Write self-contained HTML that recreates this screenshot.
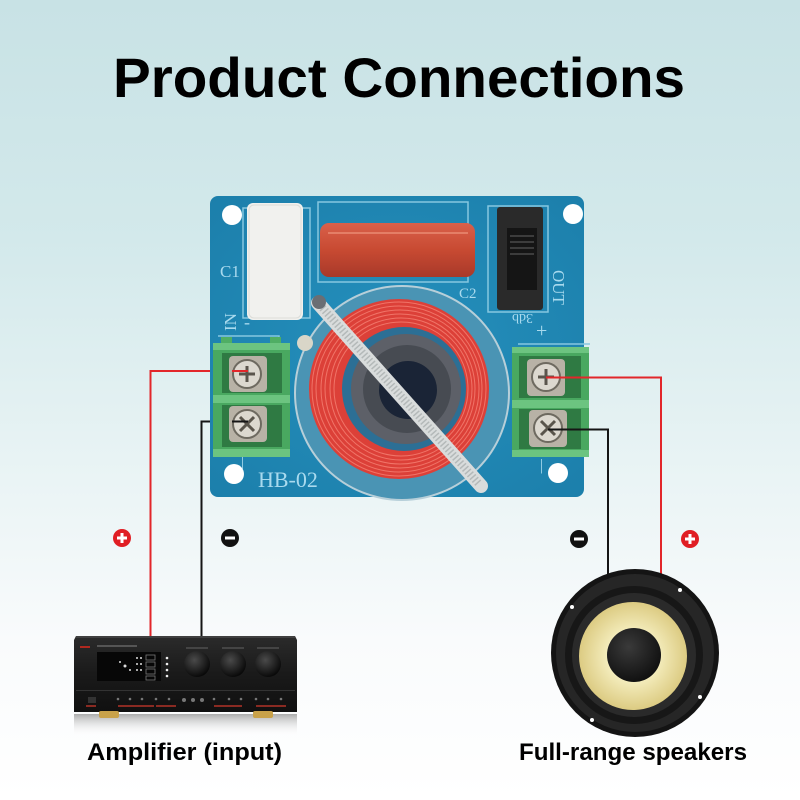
<!DOCTYPE html>
<html><head><meta charset="utf-8"><style>html,body{margin:0;padding:0;width:800px;height:800px;overflow:hidden;background:#fff}</style></head>
<body>
<svg width="800" height="800" viewBox="0 0 800 800" xmlns="http://www.w3.org/2000/svg" font-family="Liberation Sans, sans-serif">
<defs>
<linearGradient id="bg" x1="0" y1="0" x2="0" y2="1">
<stop offset="0" stop-color="#c8e2e5"/>
<stop offset="0.3" stop-color="#d3e9eb"/>
<stop offset="0.6" stop-color="#eaf4f5"/>
<stop offset="0.8" stop-color="#f9fbfc"/>
<stop offset="1" stop-color="#ffffff"/>
</linearGradient>
<radialGradient id="cone" cx="0.5" cy="0.5" r="0.5">
<stop offset="0.45" stop-color="#f5eebf"/>
<stop offset="1" stop-color="#dccb82"/>
</radialGradient>
<radialGradient id="cap" cx="0.4" cy="0.35" r="0.7">
<stop offset="0" stop-color="#3a3a3a"/>
<stop offset="1" stop-color="#0e0e0e"/>
</radialGradient>
<radialGradient id="knob" cx="0.4" cy="0.35" r="0.7">
<stop offset="0" stop-color="#4a4a4a"/>
<stop offset="1" stop-color="#050505"/>
</radialGradient>
<linearGradient id="amp" x1="0" y1="0" x2="0" y2="1">
<stop offset="0" stop-color="#2b2b2b"/>
<stop offset="0.5" stop-color="#1a1a1a"/>
<stop offset="1" stop-color="#101010"/>
</linearGradient>
<linearGradient id="refl" x1="0" y1="0" x2="0" y2="1">
<stop offset="0" stop-color="#8a8a8a"/>
<stop offset="1" stop-color="#ffffff" stop-opacity="0"/>
</linearGradient>
<linearGradient id="redcap" x1="0" y1="0" x2="0" y2="1">
<stop offset="0" stop-color="#d9604a"/>
<stop offset="0.5" stop-color="#c84a32"/>
<stop offset="1" stop-color="#a8392a"/>
</linearGradient>
<radialGradient id="board" cx="0.5" cy="0.5" r="0.7">
<stop offset="0" stop-color="#2590bd"/>
<stop offset="1" stop-color="#1c7fab"/>
</radialGradient>
</defs>

<rect width="800" height="800" fill="url(#bg)"/>

<text x="113" y="97" font-size="56" font-weight="bold" fill="#000" textLength="572" lengthAdjust="spacingAndGlyphs">Product Connections</text>

<g fill="none" stroke-width="2">
<polyline points="248,371 150.5,371 150.5,640" stroke="#e2262a"/>
<polyline points="248,421.5 201.5,421.5 201.5,640" stroke="#151515"/>
<polyline points="546,377.5 661,377.5 661,600" stroke="#e2262a"/>
<polyline points="548,429.5 608,429.5 608,600" stroke="#151515"/>
</g>

<rect x="210" y="196" width="374" height="301" rx="8" fill="url(#board)"/>
<g fill="#fff">
<circle cx="232" cy="215" r="10"/>
<circle cx="573" cy="214" r="10"/>
<circle cx="234" cy="474" r="10"/>
<circle cx="558" cy="473" r="10"/>
</g>
<g fill="none" stroke="#86c7e0" stroke-width="1.5">
<rect x="243" y="208" width="67" height="110"/>
<rect x="318" y="202" width="150" height="80"/>
<rect x="488" y="206" width="60" height="106"/>
<polyline points="218,336 279,336 279,343"/>
<polyline points="518,344 590,344"/>
</g>
<g fill="#a9daee" font-family="Liberation Serif, serif">
<text x="220" y="277" font-size="17">C1</text>
<text x="459" y="298" font-size="15">C2</text>
<text x="258" y="487" font-size="22">HB-02</text>
<text transform="translate(553,270) rotate(90)" font-size="17">OUT</text>
<text transform="translate(236,331) rotate(-90)" font-size="17">IN</text>
<text transform="translate(533,314) rotate(180)" font-size="14">3db</text>
<text x="536" y="337" font-size="20">+</text>
<text x="244" y="328" font-size="18">-</text>
<text x="540" y="470" font-size="16">|</text>
<text x="241" y="466" font-size="16">|</text>
</g>

<rect x="247" y="203" width="56" height="117" rx="6" fill="#f1f1ee"/>
<rect x="249" y="205" width="52" height="113" rx="5" fill="none" stroke="#ddddd8" stroke-width="1"/>
<rect x="320" y="223" width="155" height="54" rx="9" fill="url(#redcap)"/>
<line x1="328" y1="233" x2="468" y2="233" stroke="#e98b72" stroke-width="1.5"/>
<rect x="497" y="207" width="46" height="103" rx="3" fill="#2a2a2a"/>
<rect x="507" y="228" width="30" height="62" fill="#151515"/>
<g stroke="#3c3c3c" stroke-width="2">
<line x1="510" y1="236" x2="534" y2="236"/>
<line x1="510" y1="242" x2="534" y2="242"/>
<line x1="510" y1="248" x2="534" y2="248"/>
<line x1="510" y1="254" x2="534" y2="254"/>
</g>

<circle cx="402" cy="393" r="107" fill="#4a94b4" stroke="#b7cfd9" stroke-width="2"/>
<circle cx="399" cy="389" r="90" fill="#dc4038"/>
<g fill="none" stroke="#f07468" stroke-width="1">
<circle cx="399" cy="389" r="87"/>
<circle cx="399" cy="389" r="83"/>
<circle cx="400" cy="389" r="79"/>
<circle cx="400" cy="389" r="75"/>
<circle cx="401" cy="389" r="71"/>
<circle cx="401" cy="389" r="67"/>
</g>
<circle cx="404" cy="389" r="62" fill="#2c6f95"/>
<circle cx="406" cy="389" r="55" fill="#5d6068"/>
<circle cx="407" cy="389" r="44" fill="#474b52"/>
<circle cx="408" cy="390" r="29" fill="#1a2436"/>
<circle cx="305" cy="343" r="8" fill="#d9d6c8"/>
<line x1="318" y1="303" x2="481" y2="486" stroke="#d9dcdc" stroke-width="14" stroke-linecap="round"/>
<line x1="320" y1="305" x2="479" y2="484" stroke="#b4b9b9" stroke-width="8" stroke-dasharray="1.5 2.2"/>
<circle cx="319" cy="302" r="7" fill="#6a6e74"/>

<g>
<rect x="221" y="337" width="11" height="8" fill="#4fae64"/>
<rect x="270" y="337" width="11" height="8" fill="#4fae64"/>
<rect x="213" y="343" width="77" height="114" fill="#49a860"/>
<rect x="213" y="343" width="77" height="7" fill="#6cc480"/>
<rect x="213" y="395" width="77" height="8" fill="#6cc480"/>
<rect x="213" y="449" width="77" height="8" fill="#6cc480"/>
<rect x="222" y="353" width="60" height="40" fill="#2f7a43"/>
<rect x="222" y="405" width="60" height="42" fill="#2f7a43"/>
<rect x="229" y="356" width="38" height="36" rx="4" fill="#b8b2a6"/>
<rect x="229" y="406" width="38" height="36" rx="4" fill="#b8b2a6"/>
<circle cx="247" cy="374" r="14" fill="#dcd8cf" stroke="#6e6a60" stroke-width="2"/>
<circle cx="247" cy="424" r="14" fill="#dcd8cf" stroke="#6e6a60" stroke-width="2"/>
<g stroke="#5a554c" stroke-width="3">
<line x1="239" y1="374" x2="255" y2="374"/><line x1="247" y1="366" x2="247" y2="382"/>
<line x1="240" y1="417" x2="254" y2="431"/><line x1="254" y1="417" x2="240" y2="431"/>
</g>
</g>
<g>
<rect x="512" y="347" width="77" height="110" fill="#49a860"/>
<rect x="512" y="347" width="77" height="6" fill="#6cc480"/>
<rect x="512" y="400" width="77" height="8" fill="#6cc480"/>
<rect x="512" y="450" width="77" height="7" fill="#6cc480"/>
<rect x="519" y="356" width="62" height="42" fill="#2f7a43"/>
<rect x="519" y="409" width="62" height="40" fill="#2f7a43"/>
<rect x="527" y="359" width="38" height="37" rx="4" fill="#b8b2a6"/>
<rect x="529" y="410" width="38" height="37" rx="4" fill="#b8b2a6"/>
<circle cx="546" cy="377" r="14" fill="#dcd8cf" stroke="#6e6a60" stroke-width="2"/>
<circle cx="548" cy="428" r="14" fill="#dcd8cf" stroke="#6e6a60" stroke-width="2"/>
<g stroke="#5a554c" stroke-width="3">
<line x1="538" y1="377" x2="554" y2="377"/><line x1="546" y1="369" x2="546" y2="385"/>
<line x1="541" y1="421" x2="555" y2="435"/><line x1="555" y1="421" x2="541" y2="435"/>
</g>
</g>
<g fill="none" stroke-width="2">
<line x1="232" y1="371" x2="248" y2="371" stroke="#e2262a"/>
<line x1="232" y1="421.5" x2="248" y2="421.5" stroke="#151515"/>
<line x1="546" y1="377.5" x2="589" y2="377.5" stroke="#e2262a"/>
<line x1="548" y1="429.5" x2="589" y2="429.5" stroke="#151515"/>
</g>

<g>
<circle cx="122" cy="538" r="9" fill="#e01e24"/>
<path d="M117 538h10M122 533v10" stroke="#fff" stroke-width="3"/>
<circle cx="230" cy="538" r="9" fill="#111"/>
<path d="M225 538h10" stroke="#fff" stroke-width="3"/>
<circle cx="579" cy="539" r="9" fill="#111"/>
<path d="M574 539h10" stroke="#fff" stroke-width="3"/>
<circle cx="690" cy="539" r="9" fill="#e01e24"/>
<path d="M685 539h10M690 534v10" stroke="#fff" stroke-width="3"/>
</g>

<rect x="74" y="714" width="223" height="22" fill="url(#refl)" opacity="0.7"/>
<path d="M76 636 H295 L297 640 V712 H74 V640 Z" fill="url(#amp)"/>
<line x1="76" y1="637" x2="295" y2="637" stroke="#555" stroke-width="1"/>
<rect x="97" y="652" width="64" height="29" fill="#070707"/>
<g fill="#ddd">
<circle cx="120" cy="662" r="1"/><circle cx="125" cy="666" r="1.5"/><circle cx="130" cy="670" r="1"/>
<circle cx="137" cy="658" r="1"/><circle cx="141" cy="658" r="1"/><circle cx="137" cy="664" r="1"/><circle cx="141" cy="664" r="1"/><circle cx="137" cy="670" r="1"/><circle cx="141" cy="670" r="1"/>
</g>
<g fill="none" stroke="#777" stroke-width="0.8">
<rect x="146" y="655" width="9" height="5"/><rect x="146" y="662" width="9" height="5"/><rect x="146" y="669" width="9" height="5"/><rect x="146" y="676" width="9" height="4"/>
</g>
<g fill="#eee"><circle cx="167" cy="658" r="1.3"/><circle cx="167" cy="664" r="1.3"/><circle cx="167" cy="670" r="1.3"/><circle cx="167" cy="676" r="1.3"/></g>
<rect x="80" y="646" width="10" height="2" fill="#b0281f"/>
<rect x="97" y="645" width="40" height="2" fill="#555"/>
<circle cx="197" cy="664" r="13" fill="url(#knob)"/>
<circle cx="233" cy="664" r="13" fill="url(#knob)"/>
<circle cx="268" cy="664" r="13" fill="url(#knob)"/>
<g fill="#444"><rect x="186" y="647" width="22" height="2"/><rect x="222" y="647" width="22" height="2"/><rect x="257" y="647" width="22" height="2"/></g>
<rect x="76" y="690" width="219" height="1" fill="#333"/>
<rect x="88" y="697" width="8" height="6" fill="#333"/>
<g fill="#8a2a22">
<rect x="86" y="705" width="10" height="2"/><rect x="118" y="705" width="22" height="2"/><rect x="140" y="705" width="14" height="2"/><rect x="156" y="705" width="20" height="2"/><rect x="214" y="705" width="28" height="2"/><rect x="256" y="705" width="30" height="2"/>
</g>
<g fill="#777">
<circle cx="118" cy="699" r="1.3"/><circle cx="130" cy="699" r="1.3"/><circle cx="142" cy="699" r="1.3"/><circle cx="156" cy="699" r="1.3"/><circle cx="169" cy="699" r="1.3"/>
<circle cx="184" cy="700" r="2"/><circle cx="193" cy="700" r="2"/><circle cx="202" cy="700" r="2"/>
<circle cx="214" cy="699" r="1.3"/><circle cx="229" cy="699" r="1.3"/><circle cx="241" cy="699" r="1.3"/><circle cx="256" cy="699" r="1.3"/><circle cx="268" cy="699" r="1.3"/><circle cx="281" cy="699" r="1.3"/>
</g>
<rect x="99" y="711" width="20" height="7" rx="2" fill="#c9a24a"/>
<rect x="253" y="711" width="20" height="7" rx="2" fill="#c9a24a"/>

<circle cx="635" cy="653" r="84" fill="#141414"/>
<circle cx="635" cy="653" r="79" fill="#262626"/>
<circle cx="634" cy="655" r="69" fill="#171717"/>
<circle cx="634" cy="655" r="62" fill="#2a2a2a"/>
<circle cx="633" cy="656" r="54" fill="url(#cone)"/>
<circle cx="634" cy="655" r="27" fill="url(#cap)"/>
<g fill="#fff">
<circle cx="680" cy="590" r="2"/><circle cx="572" cy="607" r="2"/><circle cx="700" cy="697" r="2"/><circle cx="592" cy="720" r="2"/>
</g>

<text x="87" y="760" font-size="24" font-weight="bold" fill="#000" textLength="195" lengthAdjust="spacingAndGlyphs">Amplifier (input)</text>
<text x="519" y="760" font-size="24" font-weight="bold" fill="#000" textLength="228" lengthAdjust="spacingAndGlyphs">Full-range speakers</text>
</svg>
</body></html>
